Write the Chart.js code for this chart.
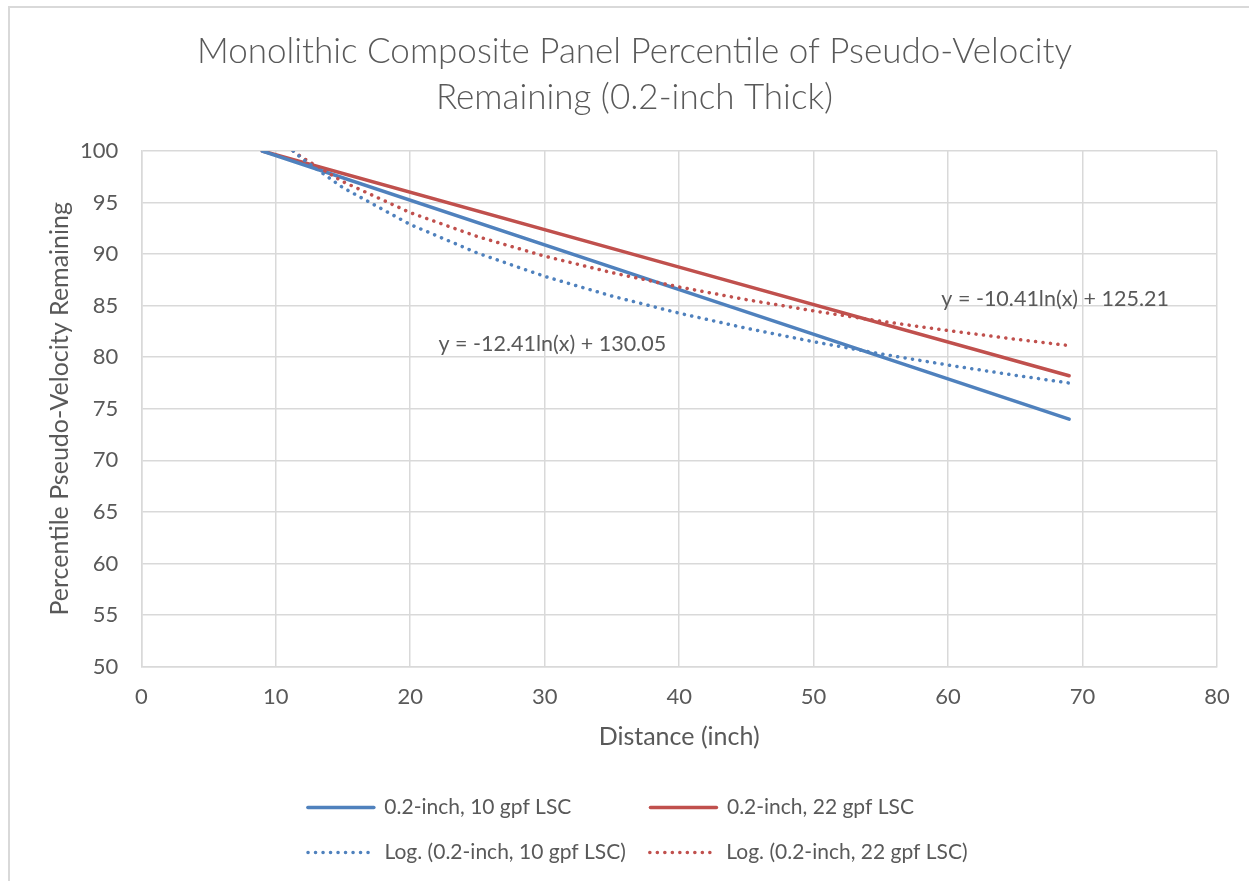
<!DOCTYPE html>
<html>
<head>
<meta charset="utf-8">
<script src="https://cdn.jsdelivr.net/npm/chart.js@4.4.1/dist/chart.umd.min.js"></script>
<style>
  html, body { margin: 0; padding: 0; background: #fff; overflow: hidden; }
  .frame { position: absolute; left: 8px; top: 6px; width: 1300px; height: 1000px; border: 2px solid #d9d9d9; }
  #chart { position: absolute; left: 0; top: 0; }
</style>
</head>
<body>
<div class="frame"></div>
<canvas id="chart" width="1249" height="881"></canvas>
<script>
// values
const lineX = [9, 39, 69];
const blue10 = [100, 87.0, 74.0];
const red22 = [100, 89.1, 78.2];

const logX = [11.3, 12, 15, 20, 25, 30, 35, 40, 45, 50, 55, 60, 65, 69];
const logBlue10 = [100.0, 99.21, 96.44, 92.87, 90.10, 87.84, 85.93, 84.27, 82.81, 81.50, 80.32, 79.24, 78.25, 77.50];
const logRed22 = [100.0, 99.34, 97.02, 94.02, 91.70, 89.80, 88.20, 86.81, 85.58, 84.49, 83.49, 82.59, 81.75, 81.13];

const seriesNames = ['0.2-inch, 10 gpf LSC', '0.2-inch, 22 gpf LSC', 'Log. (0.2-inch, 10 gpf LSC)', 'Log. (0.2-inch, 22 gpf LSC)'];
const equations = ['y = -12.41ln(x) + 130.05', 'y = -10.41ln(x) + 125.21'];
const titleLines = ['Monolithic Composite Panel Percentile of Pseudo-Velocity', 'Remaining (0.2-inch Thick)'];

const BLUE = '#4F81BD';
const RED = '#C0504D';
const TEXT = '#595959';
const GRID = '#d9d9d9';
const FONT = 'Lato';

const toPoints = (xs, ys) => xs.map((x, i) => ({ x: x, y: ys[i] }));

// trendline equation labels, placed in data coordinates
const equationLabels = {
  id: 'equationLabels',
  afterDatasetsDraw(chart, args, opts) {
    const ctx = chart.ctx;
    const { x, y } = chart.scales;
    ctx.save();
    ctx.font = `21.5px ${FONT}`;
    ctx.fillStyle = TEXT;
    ctx.textAlign = 'left';
    ctx.textBaseline = 'middle';
    opts.items.forEach(it => {
      ctx.fillText(it.text, x.getPixelForValue(it.x), y.getPixelForValue(it.y));
    });
    ctx.restore();
  }
};

const legendFont = { family: FONT, size: 21 };

const chart = new Chart(document.getElementById('chart'), {
  type: 'scatter',
  data: {
    datasets: [
      { label: seriesNames[0], data: toPoints(lineX, blue10), borderColor: BLUE, backgroundColor: BLUE,
        borderWidth: 3.5, borderCapStyle: 'round', showLine: true, pointRadius: 0, order: 1 },
      { label: seriesNames[1], data: toPoints(lineX, red22), borderColor: RED, backgroundColor: RED,
        borderWidth: 3.5, borderCapStyle: 'round', showLine: true, pointRadius: 0, order: 1 },
      { label: seriesNames[2], data: toPoints(logX, logBlue10), borderColor: BLUE, backgroundColor: BLUE,
        borderWidth: 3.5, borderDash: [0.1, 7.4], borderCapStyle: 'round', showLine: true, pointRadius: 0, order: 0 },
      { label: seriesNames[3], data: toPoints(logX, logRed22), borderColor: RED, backgroundColor: RED,
        borderWidth: 3.5, borderDash: [0.1, 7.4], borderCapStyle: 'round', showLine: true, pointRadius: 0, order: 0 }
    ]
  },
  plugins: [equationLabels],
  options: {
    responsive: false,
    animation: false,
    layout: { padding: { left: 52, right: 32, top: 0, bottom: 8 } },
    plugins: {
      title: {
        display: true,
        text: titleLines,
        color: TEXT,
        font: { family: FONT, size: 35, weight: '300', lineHeight: 1.314 },
        padding: { top: 29, bottom: 30 }
      },
      legend: {
        position: 'bottom',
        fullSize: false,
        labels: {
          usePointStyle: true,
          pointStyle: 'line',
          pointStyleWidth: 66,
          color: TEXT,
          font: legendFont,
          padding: 24,
          generateLabels(chart) {
            const ctx = chart.ctx;
            ctx.save();
            ctx.font = `${legendFont.size}px ${legendFont.family}`;
            const items = chart.data.datasets.map((ds, i) => ({
              text: ds.label,
              fillStyle: ds.borderColor,
              strokeStyle: ds.borderColor,
              lineWidth: ds.borderWidth,
              lineDash: ds.borderDash || [],
              lineCap: ds.borderCapStyle,
              pointStyle: 'line',
              fontColor: TEXT,
              hidden: !chart.isDatasetVisible(i),
              datasetIndex: i
            }));
            // pad texts so the legend sits in two aligned columns
            const col1 = Math.max(ctx.measureText(items[0].text).width, ctx.measureText(items[2].text).width);
            items.forEach((it, i) => {
              const target = i % 2 === 0 ? col1 : col1 + 82;
              while (ctx.measureText(it.text).width < target - 0.5) it.text += '\u200a';
            });
            ctx.restore();
            return items;
          }
        }
      },
      equationLabels: {
        items: [
          { text: equations[0], x: 22.1, y: 81.3 },
          { text: equations[1], x: 59.5, y: 85.6 }
        ]
      },
      tooltip: { enabled: false }
    },
    scales: {
      x: {
        type: 'linear',
        min: 0,
        max: 80,
        ticks: { stepSize: 10, color: TEXT, font: { family: FONT, size: 22 }, padding: 17 },
        grid: { color: GRID, lineWidth: 1.5, drawTicks: false },
        border: { color: GRID, width: 1.5 },
        title: { display: true, text: 'Distance (inch)', color: TEXT, font: { family: FONT, size: 25 },
          padding: { top: -5, bottom: 21 } }
      },
      y: {
        min: 50,
        max: 100,
        ticks: { stepSize: 5, color: TEXT, font: { family: FONT, size: 22 }, padding: 23 },
        grid: { color: GRID, lineWidth: 1.5, drawTicks: false },
        border: { color: GRID, width: 1.5 },
        title: { display: true, text: 'Percentile Pseudo-Velocity Remaining', color: TEXT,
          font: { family: FONT, size: 25 }, padding: { top: -7, bottom: -18 } }
      }
    }
  }
});
</script>
</body>
</html>
